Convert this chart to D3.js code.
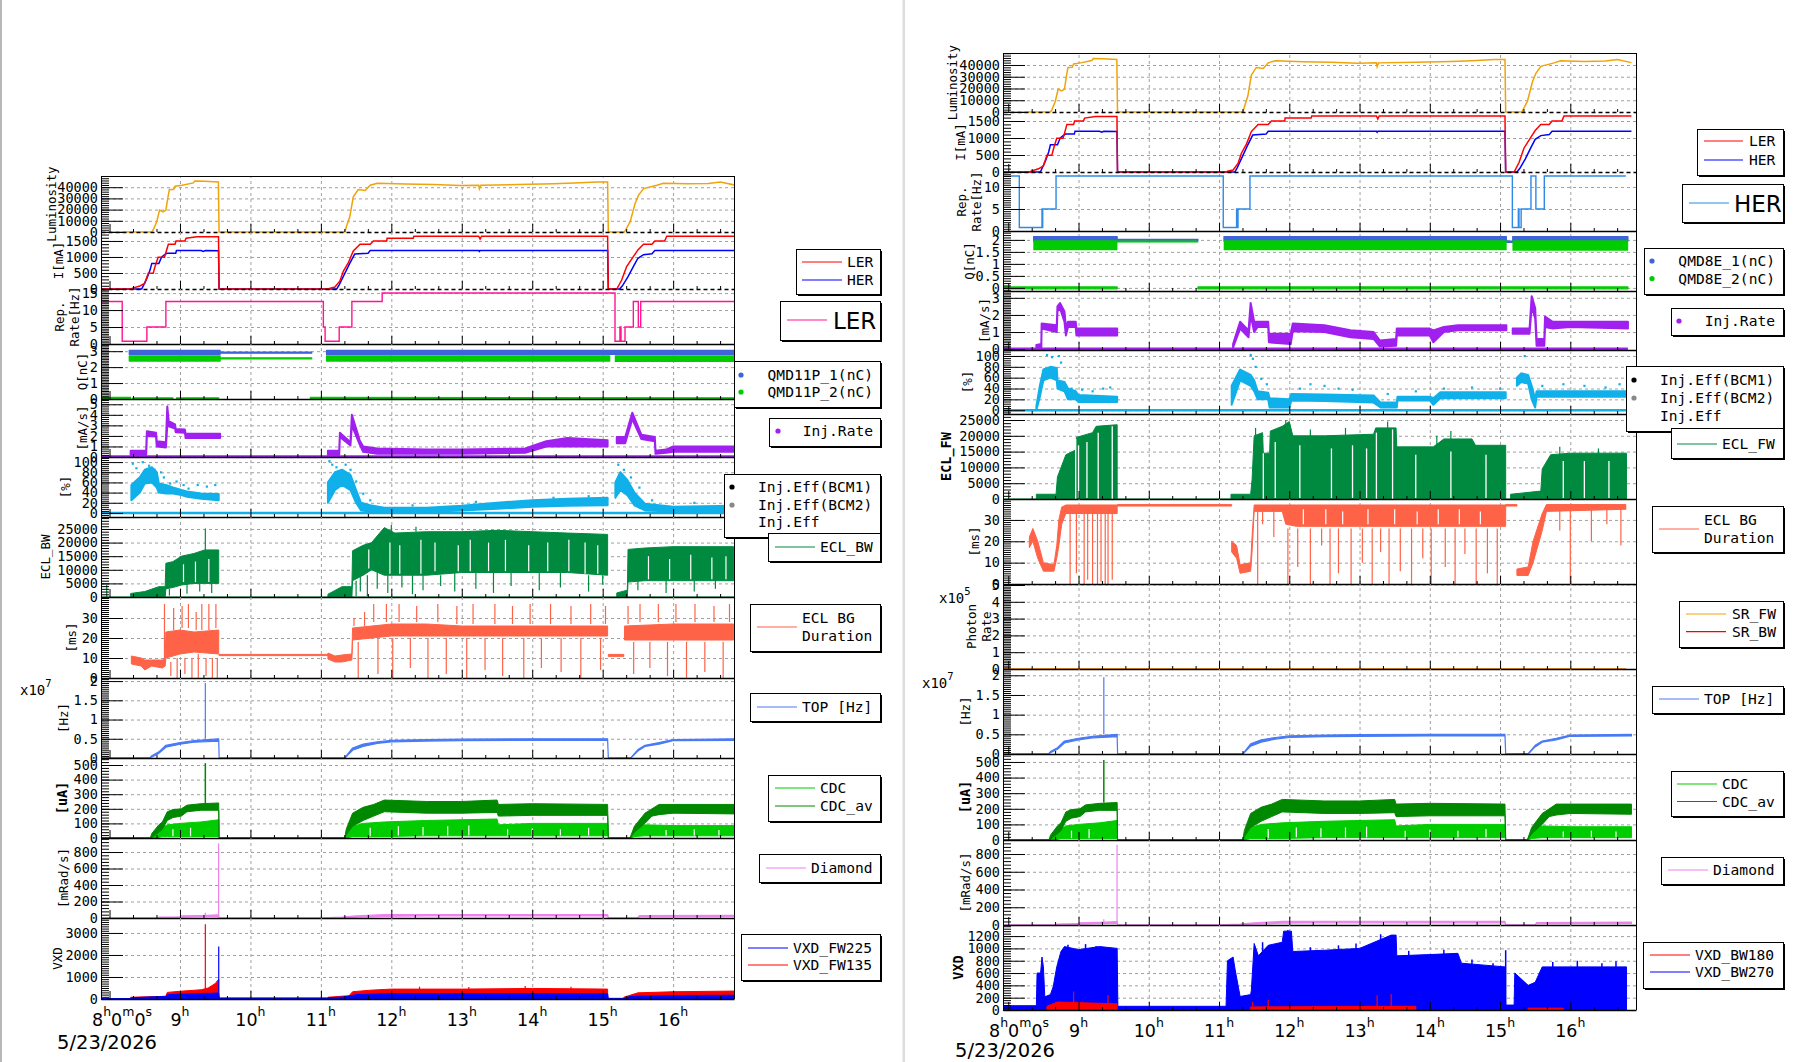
<!DOCTYPE html>
<html>
<head>
<meta charset="utf-8">
<script src="https://cdn.jsdelivr.net/npm/d3@7"></script>
<style>
body { margin: 0; background: #fff; }
</style>
</head>
<body>
<svg id="main" width="1806" height="1062"></svg>
<script>
// ---- values, time in hours of 5/23/2026 ----
var dateLabel = "5/23/2026";
var hourTicks = [8, 9, 10, 11, 12, 13, 14, 15, 16];

var lumData = [[7.879,0],[8.60,0],[8.62,1800],[8.67,9200],[8.71,19500],[8.76,18000],[8.80,19500],[8.83,31400],[8.85,37900],[8.91,38000],[8.93,40900],[9.03,41800],[9.19,43800],[9.21,45600],[9.35,45300],[9.545,44700],[9.555,0],[11.34,0],[11.37,6200],[11.41,13600],[11.46,31400],[11.53,37900],[11.63,37000],[11.70,41800],[11.80,43600],[12.2,42800],[12.6,42300],[12.98,41500],[13.24,41800],[13.25,38500],[13.27,41800],[13.8,42300],[14.3,43000],[14.6,43700],[14.92,44700],[15.07,44700],[15.08,0],[15.31,0],[15.39,9200],[15.46,25500],[15.51,32900],[15.58,38800],[15.77,41800],[15.86,43600],[16.2,43000],[16.5,43300],[16.67,44700],[16.87,42000]];

var lerCurrent = [[7.879,0],[8.315,0],[8.32,20],[8.43,94],[8.50,177],[8.55,490],[8.62,490],[8.646,700],[8.69,990],[8.78,990],[8.835,1400],[8.93,1400],[8.944,1500],[9.07,1500],[9.086,1585],[9.24,1635],[9.547,1635],[9.555,0],[11.106,0],[11.12,20],[11.2,60],[11.27,250],[11.32,560],[11.39,820],[11.46,1190],[11.556,1400],[11.7,1400],[11.745,1500],[11.935,1500],[11.94,1585],[12.31,1585],[12.32,1650],[13.24,1650],[13.26,1560],[13.28,1650],[15.07,1650],[15.08,0],[15.2,0],[15.27,280],[15.34,700],[15.435,1010],[15.5,1220],[15.58,1400],[15.7,1400],[15.74,1500],[15.88,1500],[15.91,1650],[16.87,1650]];
var herCurrent = [[7.879,0],[8.457,0],[8.53,330],[8.575,590],[8.6,800],[8.7,800],[8.74,1000],[8.81,1115],[8.94,1115],[8.95,1200],[9.3,1200],[9.33,1170],[9.36,1200],[9.547,1195],[9.555,0],[11.225,0],[11.26,130],[11.34,490],[11.41,800],[11.48,1090],[11.67,1115],[11.70,1200],[13.24,1200],[13.25,1170],[13.26,1200],[15.07,1200],[15.08,0],[15.24,0],[15.28,100],[15.36,385],[15.435,700],[15.5,960],[15.58,1070],[15.7,1100],[15.74,1200],[16.87,1200]];

var lerRepRate = [[7.879,12.5],[8.18,0.8],[8.53,5],[8.80,12.5],[11.035,5],[11.06,0.8],[11.26,5],[11.44,12.5],[11.87,15],[15.175,0.8],[15.245,5],[15.26,0.8],[15.317,5],[15.435,12.5],[15.506,5],[15.54,12.5],[16.87,12.5]];
var herRepRate = [[7.925,12.5],[8.157,0.8],[8.48,5],[8.485,0.8],[8.49,5],[8.68,12.5],[11.06,0.8],[11.25,5],[11.26,0.8],[11.27,5],[11.44,12.5],[15.175,0.8],[15.26,5],[15.27,0.8],[15.30,5],[15.44,12.5],[15.51,5],[15.63,12.5],[16.79,12.5]];

// bunch charge bands [t, low, high]
var qmd11p1 = [[[8.28,2.8,3.05],[9.57,2.8,3.05]],[[9.57,2.87,2.94],[10.87,2.87,2.94]],[[11.08,2.8,3.05],[16.86,2.8,3.05]]];
var qmd11p2 = [[[8.28,2.38,2.7],[9.57,2.38,2.7]],[[9.57,2.52,2.58],[10.87,2.52,2.58]],[[11.08,2.38,2.7],[15.1,2.38,2.7]],[[15.18,2.36,2.7],[16.86,2.36,2.7]]];
var qmd11pZero = [[[7.879,0,0.1],[8.30,0,0.1]],[[8.33,0,0.08],[8.9,0,0.08]],[[8.95,0,0.08],[9.55,0,0.08]],[[10.85,0,0.1],[16.86,0,0.08]]];
var qmd8e1 = [[[8.36,1.95,2.14],[9.55,1.95,2.14]],[[9.55,1.96,2.02],[10.70,1.96,2.02]],[[11.07,1.95,2.14],[15.09,1.95,2.14]],[[15.09,1.9,1.95],[15.18,1.9,1.95]],[[15.18,1.95,2.14],[16.82,1.95,2.14]]];
var qmd8e2 = [[[8.36,1.58,1.97],[9.55,1.58,1.97]],[[9.55,1.9,1.96],[10.70,1.9,1.96]],[[11.07,1.58,1.97],[15.09,1.58,1.97]],[[15.18,1.56,1.97],[16.82,1.56,1.97]]];
var qmd8eZero = [[[7.925,-0.04,0.04],[9.55,-0.04,0.04]],[[10.70,-0.04,0.04],[16.82,-0.04,0.04]]];

// injection rate bands [t, low, high] (mA/s)
var lerInjRate = [
  [[8.30,0.2,0.6],[8.52,0.2,0.6],[8.53,2.0,2.45],[8.66,1.95,2.3],[8.67,1.0,1.5],[8.80,0.9,1.4],[8.82,3.0,4.8],[8.84,2.9,3.4],[8.93,2.7,3.1],[8.94,2.35,2.65],[9.07,2.3,2.6],[9.08,1.8,2.2],[9.57,1.8,2.2]],
  [[11.10,0.2,0.6],[11.26,0.2,0.6],[11.27,1.9,2.3],[11.42,1.1,1.4],[11.44,3.0,4.0],[11.55,1.2,1.6],[11.60,0.5,1.0],[11.8,0.3,0.8],[12.5,0.3,0.7],[13.0,0.3,0.7],[13.9,0.4,0.8],[14.2,1.0,1.5],[14.5,1.0,1.8],[15.07,1.0,1.6]],
  [[15.2,1.3,1.9],[15.32,1.3,1.9],[15.42,3.6,4.2],[15.55,1.7,2.1],[15.74,1.5,1.9],[15.75,0.3,0.6],[15.9,0.4,0.7],[16.0,0.5,1.0],[16.86,0.5,1.0]]
];
var herInjRate = [
  [[8.40,0.05,0.25],[8.47,0.05,0.3],[8.475,1.2,1.5],[8.69,1.0,1.4],[8.70,2.2,2.5],[8.736,2.4,2.7],[8.80,1.6,2.2],[8.82,0.8,1.3],[8.85,1.3,1.6],[8.96,1.3,1.6],[8.97,0.8,1.2],[9.55,0.8,1.2]],
  [[11.20,0.1,0.3],[11.30,1.2,1.6],[11.42,0.7,1.1],[11.45,2.0,2.7],[11.50,1.0,1.6],[11.55,1.3,1.6],[11.70,1.3,1.6],[11.71,0.4,0.9],[12.02,0.3,0.9],[12.05,1.05,1.5],[12.5,1.0,1.4],[12.87,0.7,1.1],[13.2,0.6,1.0],[13.29,0.15,0.5],[13.52,0.2,0.6],[13.53,0.8,1.2],[14.0,0.8,1.2],[14.05,0.4,1.1],[14.2,1.0,1.3],[14.4,1.1,1.4],[15.09,1.1,1.4]],
  [[15.18,0.9,1.2],[15.42,0.9,1.2],[15.45,2.5,3.1],[15.5,1.8,2.4],[15.52,0.2,0.6],[15.63,0.2,0.6],[15.64,1.3,1.9],[15.75,1.2,1.6],[16.0,1.3,1.6],[16.82,1.2,1.6]]
];

// injection efficiency bands [t, low, high] (%)
var lerInjEff = [
  [[8.31,25,55],[8.43,40,70],[8.5,58,85],[8.6,60,90],[8.67,50,80],[8.70,40,58],[8.80,38,55],[8.9,38,50],[9.02,35,45],[9.1,32,42],[9.3,28,38],[9.55,25,37]],
  [[11.1,20,60],[11.2,45,80],[11.3,55,85],[11.42,45,75],[11.5,20,45],[11.57,5,20],[11.7,3,15],[11.9,2,10],[12.5,2,10],[13.0,5,14],[13.5,8,20],[14.0,12,25],[14.5,14,28],[15.07,15,30]],
  [[15.18,30,60],[15.25,45,80],[15.35,35,65],[15.45,15,40],[15.6,5,18],[16.0,3,12],[16.86,3,14]]
];
var herInjEff = [
  [[8.40,0,8],[8.45,25,45],[8.5,55,75],[8.6,60,80],[8.69,55,78],[8.70,40,55],[8.80,35,52],[8.85,20,40],[8.96,20,35],[9.0,15,28],[9.55,15,25]],
  [[11.18,10,45],[11.3,55,75],[11.45,45,65],[11.5,35,55],[11.55,20,35],[11.70,20,32],[11.72,5,22],[12.0,5,20],[12.03,18,30],[12.5,17,29],[13.2,14,27],[13.3,5,14],[13.53,5,14],[13.54,18,25],[14.0,18,25],[14.05,10,22],[14.15,22,33],[15.08,22,33]],
  [[15.24,45,60],[15.3,52,68],[15.4,49,65],[15.45,20,45],[15.5,5,20],[15.52,25,35],[16.0,25,35],[16.82,25,35]]
];
var lerEffPoints = [[8.33,97],[8.38,88],[8.47,100],[8.56,93],[8.64,85],[8.73,80],[8.77,70],[8.86,58],[8.95,62],[9.05,55],[9.12,48],[9.25,55],[9.38,52],[9.5,55],[11.12,102],[11.16,95],[11.22,90],[11.35,95],[11.42,85],[11.5,62],[11.6,38],[11.7,25],[12.3,15],[13.2,22],[14.3,30],[14.8,33],[15.22,95],[15.3,85],[15.4,70],[15.52,50],[15.7,25],[16.3,20]];
var herEffPoints = [[8.55,102],[8.62,98],[8.72,100],[8.75,88],[8.9,40],[9.05,38],[9.2,35],[9.35,40],[9.45,42],[11.45,102],[11.48,95],[11.52,80],[11.6,58],[11.68,48],[12.15,40],[12.3,48],[12.5,45],[12.7,40],[12.9,38],[13.4,30],[13.8,35],[14.2,40],[14.6,42],[15.0,40],[15.35,100],[15.6,45],[15.9,48],[16.2,45],[16.5,42],[16.7,48]];

// ECL background bands [t, low, high], spikes and white gaps [t, from, to]
var eclBw = [
  [[8.3,0,1300],[8.5,0,2000],[8.7,0,3800],[8.79,0,3800],[8.8,3000,12400],[8.9,3500,13000],[9.02,4400,15000],[9.2,5000,16000],[9.35,5000,17300],[9.55,5000,17300]],
  [[11.1,0,1000],[11.3,0,3800],[11.44,0,3800],[11.45,6000,17000],[11.6,8000,19000],[11.72,10000,20000],[11.9,8000,25500],[12.05,8000,23500],[12.5,8000,24000],[13.0,9000,24000],[13.5,9000,24500],[14.0,9000,24000],[14.5,9000,23500],[15.07,8000,23000]],
  [[15.2,0,1500],[15.35,0,2500],[15.36,5500,17500],[15.6,6000,18000],[16.0,6000,18500],[16.86,6000,18500]]
];
var eclBwSpikes = [[7.96,0,4400],[9.36,17000,25200],[8.85,500,3000],[9.1,5000,1200],[9.28,5000,2000],[9.45,5000,1500],[11.5,6000,300],[11.56,8000,2000],[11.66,8000,400],[11.8,10000,3000],[11.95,8000,1500],[12.15,8000,3500],[12.3,8000,1000],[12.45,8000,2500],[12.7,8000,4000],[12.9,9000,2000],[13.2,9000,3000],[13.45,9000,1500],[13.7,9000,4000],[14.1,9000,2500],[14.4,9000,3500],[14.8,8000,2000],[15.0,8000,4500],[15.5,6000,2500],[15.9,6000,1500],[16.3,6000,2000],[16.6,6000,3000],[12.0,23500,26500],[12.35,24000,25800]];
var eclBwGaps = [[9.05,5500,12000],[9.22,5500,13000],[9.41,5500,14000],[11.68,10500,17500],[11.98,8500,20000],[12.12,8500,19000],[12.42,8500,21000],[12.62,9500,20000],[12.95,9500,19000],[13.12,9500,21000],[13.38,9500,20000],[13.62,9500,21000],[13.95,9500,19000],[14.22,9500,20000],[14.52,9500,21000],[14.75,8500,20000],[14.93,8500,19000],[15.65,6500,15000],[15.95,6500,14000],[16.25,6500,15500],[16.55,6500,14500],[16.75,6500,15000]];
var eclFw = [
  [[8.4,0,1500],[8.68,0,1500],[8.7,0,7000],[8.82,0,14000],[8.96,0,15500],[8.97,0,19500],[9.2,0,21000],[9.25,0,23000],[9.55,0,23500]],
  [[11.17,0,1500],[11.45,0,1500],[11.47,0,6000],[11.5,0,20000],[11.62,0,21000],[11.63,0,14500],[11.72,0,14500],[11.73,0,21500],[11.9,0,23000],[12.0,0,24500],[12.05,0,20000],[12.5,0,20000],[13.2,0,20500],[13.23,0,22500],[13.52,0,22500],[13.53,0,16500],[14.05,0,16500],[14.2,0,19000],[14.6,0,19000],[14.65,0,17000],[15.08,0,17000]],
  [[15.15,0,1500],[15.58,0,2500],[15.6,0,9500],[15.72,0,14000],[16.0,0,14500],[16.8,0,14500]]
];
var eclFwSpikes = [[7.93,0,5000],[11.52,0,22500],[11.95,0,25000],[12.3,0,22000],[12.8,0,22500],[13.4,0,24500],[14.1,0,20000],[14.3,0,21500],[15.85,0,16500],[16.4,0,16000]];
var eclFwGaps = [[8.96,0,19000],[9.0,300,17000],[9.12,300,18000],[9.28,0,21000],[9.48,0,23000],[11.63,0,14500],[11.8,300,18000],[12.15,300,17000],[12.6,300,16000],[12.9,300,17000],[13.1,300,16000],[13.24,0,21000],[13.47,0,22000],[13.8,300,14000],[14.3,300,15000],[14.8,300,14000],[15.9,300,12000],[16.2,300,12000],[16.55,300,12000]];

// ECL BG duration bands [t, low, high] (ms) and spikes [t, from, to]
var lerDuration = [
  [[8.31,7,11],[8.45,6,10],[8.5,4,9],[8.6,6,9],[8.75,5,9],[8.79,6,10],[8.8,10,23],[9.0,12,24],[9.2,13,23],[9.55,12,24]],
  [[9.555,11.2,11.8],[11.1,11.2,11.8]],
  [[11.1,9.5,12.5],[11.2,8,11],[11.3,8,11.5],[11.44,9,12],[11.45,19,25],[12.0,21,27],[12.5,21,27],[13.0,21,26],[14.0,21,26],[15.07,21,26]],
  [[15.08,10.8,11.8],[15.3,10.8,11.8]],
  [[15.31,19,26],[16.0,19,27],[16.86,19,27]]
];
var lerDurSpikes = [[8.78,10,37],[8.87,8,1],[8.91,24,35],[8.96,10,0],[9.03,25,36],[9.07,10,2],[9.12,25,37],[9.17,10,0],[9.23,24,33],[9.26,12,0],[9.31,24,37],[9.37,10,1],[9.41,24,37],[9.46,10,0],[9.51,25,37],[9.53,10,0],[11.47,26,30],[11.53,18,0],[11.62,26,33],[11.75,28,37],[11.81,20,2],[11.93,28,37],[12.02,20,0],[12.11,28,37],[12.27,20,5],[12.36,28,36],[12.52,20,0],[12.66,28,37],[12.78,20,2],[12.93,27,36],[13.07,20,0],[13.16,27,37],[13.33,20,4],[13.47,27,37],[13.58,20,1],[13.72,27,36],[13.88,20,0],[13.97,27,37],[14.13,20,5],[14.26,27,37],[14.41,20,3],[14.55,27,36],[14.69,20,0],[14.83,27,37],[14.97,20,4],[15.04,27,36],[15.36,27,36],[15.44,18,2],[15.53,28,37],[15.67,18,5],[15.79,28,37],[15.92,18,1],[16.04,28,37],[16.19,18,0],[16.31,28,37],[16.45,18,3],[16.58,28,36],[16.71,18,0],[16.8,28,37]];
var herDuration = [
  [[8.3,17,22],[8.35,20,26],[8.42,12,20],[8.5,6,10],[8.65,6,9],[8.69,12,18],[8.72,18,30],[8.76,28,36],[8.82,33,37],[9.55,33,37]],
  [[9.555,36.5,37.2],[11.18,36.5,37.2]],
  [[11.18,15,20],[11.25,12,18],[11.3,5,9],[11.45,6,10],[11.47,15,22],[11.5,34,37],[11.9,34,37],[11.95,28,37],[12.1,27,37],[15.08,27,37]],
  [[15.08,36.5,37.2],[15.24,36.5,37.2]],
  [[15.24,4,7],[15.4,4,8],[15.47,10,20],[15.6,25,33],[15.66,34,37.2],[16.79,35,37.2]]
];
var herDurSpikes = [[8.88,33,0],[8.97,33,5],[9.08,33,0],[9.13,33,2],[9.2,33,0],[9.27,33,0],[9.32,33,1],[9.38,33,0],[9.42,33,0],[9.48,33,2],[11.55,34,0],[11.62,34,28],[11.78,34,22],[11.98,26,0],[12.12,26,8],[12.3,26,0],[12.46,26,18],[12.58,26,0],[12.7,26,5],[12.88,26,0],[13.04,26,10],[13.18,26,0],[13.3,26,15],[13.42,26,0],[13.58,26,6],[13.74,26,0],[13.9,26,12],[14.02,26,0],[14.22,26,8],[14.36,26,0],[14.5,26,14],[14.66,26,0],[14.82,26,5],[14.96,26,0],[15.85,35,25],[16.0,35,0],[16.3,35,20],[16.52,35,28],[16.72,35,18]];
var herDurGaps = [[12.2,28,35],[12.52,28,35],[12.76,28,34],[13.12,28,35],[13.5,28,35],[13.82,28,34],[14.12,28,35],[14.42,28,35],[14.72,28,34]];

// SR photon rate (x1e5), TOP (x1e7), CDC, diamond
var srFw = [[7.925,0],[16.79,0]];
var srBw = [[7.925,0],[16.79,0]];
var topRate = [
  [[7.879,0,0.005],[8.575,0,0.01],[8.6,0.03,0.06],[8.7,0.12,0.16],[8.8,0.28,0.33],[9.0,0.36,0.40],[9.2,0.41,0.45],[9.55,0.44,0.5],[9.556,0,0.005],[11.34,0,0.01],[11.45,0.2,0.26],[11.6,0.3,0.36],[11.8,0.38,0.42],[12.0,0.42,0.46],[12.5,0.44,0.48],[13.0,0.45,0.49],[14.0,0.46,0.5],[15.07,0.46,0.5],[15.08,0,0.005],[15.4,0,0.01],[15.5,0.18,0.22],[15.6,0.3,0.33],[15.8,0.36,0.40],[16.0,0.45,0.48],[16.87,0.46,0.5]]
];
var topSpikes = [[9.36,0.5,1.95]];
var cdcCurrent = [
  [[8.58,0,2],[8.65,0,30],[8.75,10,70],[8.82,10,90],[9.0,10,100],[9.3,10,110],[9.55,10,125]],
  [[11.34,0,2],[11.45,10,80],[11.6,10,100],[11.9,10,110],[12.5,15,120],[13.5,15,130],[13.52,15,90],[14.0,15,100],[15.07,15,100]],
  [[15.39,0,2],[15.45,10,60],[15.6,15,90],[16.0,15,85],[16.87,15,85]]
];
var cdcGaps = [[8.9,12,60],[9.15,12,70],[11.7,12,70],[12.1,17,80],[12.45,17,75],[12.8,17,80],[13.1,17,85],[13.65,17,60],[14.0,17,65],[14.4,17,60],[14.8,17,70],[15.9,17,55],[16.3,17,60],[16.65,17,55]];
var cdcAverage = [
  [[7.879,0,2],[8.58,0,2],[8.6,5,30],[8.7,40,90],[8.75,60,110],[8.82,120,180],[8.9,140,195],[9.02,150,200],[9.1,180,225],[9.3,190,235],[9.55,190,240],[9.555,0,2],[11.34,0,2],[11.36,20,60],[11.45,80,170],[11.6,120,210],[11.75,150,230],[11.9,180,260],[12.5,170,250],[13.0,170,250],[13.5,175,260],[13.52,150,230],[14.0,155,235],[15.07,155,230],[15.08,0,2],[15.39,0,2],[15.45,40,80],[15.6,100,170],[15.7,150,200],[15.8,160,230],[16.0,170,230],[16.87,165,230]]
];
var cdcSpikes = [[9.36,240,513]];
var diamondDose = [
  [[7.879,0,1],[8.68,0,2],[8.7,3,10],[9.0,5,15],[9.02,10,25],[9.3,15,30],[9.55,20,38],[9.555,0,1],[11.0,0,2],[11.3,2,10],[11.5,10,25],[11.9,20,40],[12.5,25,40],[13.0,25,42],[14.0,25,42],[15.07,25,40],[15.08,0,3],[15.5,0,3],[15.52,15,28],[16.87,18,32]]
];
var diamondSpikes = [[9.36,30,64],[9.548,30,905]];

// VXD
var vxdFw225 = [
  [[7.879,0,20],[8.3,0,20],[8.32,0,60],[8.8,0,120],[8.82,0,200],[9.3,0,250],[9.55,0,270],[9.56,0,50],[11.1,0,50],[11.35,0,100],[11.5,0,200],[12.0,0,250],[13.0,0,250],[15.07,0,240],[15.08,0,30],[15.3,0,30],[15.4,0,120],[16.0,0,160],[16.87,0,170]]
];
var vxdFw135 = [
  [[8.3,0,80],[8.8,0,120],[8.82,0,300],[9.0,0,350],[9.3,0,420],[9.4,0,500],[9.5,0,700],[9.55,0,900]],
  [[11.1,0,80],[11.4,0,150],[11.45,0,330],[11.7,0,400],[12.0,0,450],[13.0,0,450],[14.0,0,480],[15.07,0,450]],
  [[15.3,0,80],[15.5,0,280],[16.0,0,330],[16.87,0,360]]
];
var vxdFwSpikes135 = [[9.36,400,3400],[12.4,440,560],[13.1,440,540],[13.9,470,590],[14.55,460,560]];
var vxdFwSpikes225 = [[9.55,200,2380]];
var vxdBw270 = [
  [[7.925,0,70],[8.4,0,70],[8.41,0,600],[8.46,0,600],[8.48,0,860],[8.5,0,700],[8.52,0,215],[8.6,0,250],[8.64,0,380],[8.69,0,700],[8.75,0,950],[8.8,0,1030],[9.0,0,980],[9.3,0,1030],[9.55,0,1000],[9.56,0,60],[11.1,0,60],[11.12,0,800],[11.2,0,860],[11.23,0,650],[11.3,0,220],[11.45,0,250],[11.46,0,320],[11.5,0,1080],[11.56,0,880],[11.7,0,1050],[11.9,0,1100],[11.92,0,1280],[12.03,0,1280],[12.05,0,950],[12.5,0,970],[13.0,0,1000],[13.45,0,1216],[13.52,0,1216],[13.53,0,880],[14.0,0,900],[14.4,0,920],[14.45,0,760],[15.07,0,700],[15.08,0,80],[15.2,0,80],[15.21,0,600],[15.4,0,400],[15.5,0,450],[15.6,0,700],[16.0,0,700],[16.8,0,700]]
];
var vxdBwSpikes270 = [[8.85,900,1060],[9.1,950,1070],[9.25,950,1040],[11.62,900,1100],[11.98,1200,1300],[12.3,900,1020],[12.7,950,1050],[12.95,980,1080],[13.3,1100,1230],[13.7,880,960],[14.2,880,980],[14.6,700,820],[14.9,680,760],[15.08,80,970],[15.75,650,780],[16.1,650,800],[16.45,650,760],[16.65,650,790]];
var vxdBw180 = [
  [[8.55,0,60],[8.7,0,130],[9.55,0,100]],
  [[11.45,0,50],[13.8,0,60]],
  [[15.4,0,30],[15.9,0,30]]
];
var vxdBwSpikes180 = [[8.93,100,300],[9.42,100,245],[11.48,40,135],[11.70,40,165],[13.25,50,240],[13.45,50,260]];

// ---- drawing ----
var svg = d3.select("#main");
var mono = "DejaVu Sans Mono";
var C = { lum: "#f0a30a", ler: "#ff0000", her: "#0000ff", repL: "#ff1493", repH: "#2e8ae6",
  q1: "#3f63d8", q2: "#00cc00", rate: "#a020f0", eff: "#10b0ea", ecl: "#008a40", dur: "#ff6347",
  top: "#4a7af5", cdc: "#00cc00", cdcAv: "#008800", dia: "#ee82ee" };

svg.append("rect").attr("x", 0).attr("y", 0).attr("width", 2).attr("height", 1062).attr("fill", "#b8b8b8");
svg.append("rect").attr("x", 902.5).attr("y", 0).attr("width", 2.5).attr("height", 1062).attr("fill", "#dddddd");

function gridStyle(s) {
  s.select(".domain").remove();
  s.selectAll("line").attr("stroke", "#a0a0a0").attr("stroke-dasharray", "3,3");
}

function minorValues(dom, step) {
  var out = [];
  for (var v = Math.ceil(dom[0] / step) * step; v <= dom[1] + 1e-9; v += step) out.push(v);
  return out;
}

function drawPanel(side, p, first) {
  var x = side.x, x0 = side.x0, x1 = side.x1;
  var y = d3.scaleLinear().domain(p.domain).range([p.y1, p.y0]);
  var w = x1 - x0, h = p.y1 - p.y0;
  var g = svg.append("g");

  var gridVals = p.ticks.filter(function(v) { return y(v) < p.y1 - 2 && y(v) > p.y0 + 1; });
  g.append("g").attr("transform", "translate(" + x0 + ",0)")
    .call(d3.axisLeft(y).tickValues(gridVals).tickSizeInner(-w).tickSizeOuter(0).tickFormat(""))
    .call(gridStyle);
  g.append("g").attr("transform", "translate(0," + p.y1 + ")")
    .call(d3.axisBottom(x).tickValues(hourTicks.slice(1)).tickSizeInner(-h).tickSizeOuter(0).tickFormat(""))
    .call(gridStyle);

  var clipId = "c" + side.name + p.key;
  svg.append("clipPath").attr("id", clipId).append("rect")
    .attr("x", x0).attr("y", p.y0).attr("width", w).attr("height", h + 1);
  var dg = g.append("g").attr("clip-path", "url(#" + clipId + ")");

  p.series.forEach(function(s) {
    if (s.type === "line" || s.type === "step") {
      var ln = d3.line().x(function(d) { return x(d[0]); }).y(function(d) { return y(d[1]); })
        .curve(s.type === "step" ? d3.curveStepAfter : d3.curveLinear);
      dg.append("path").attr("d", ln(s.data)).attr("fill", "none")
        .attr("stroke", s.color).attr("stroke-width", s.w || 1.4);
    } else if (s.type === "band") {
      var ar = d3.area().x(function(d) { return x(d[0]); })
        .y0(function(d) { return y(d[1]); }).y1(function(d) { return y(d[2]); });
      s.data.forEach(function(seg) {
        dg.append("path").attr("d", ar(seg)).attr("fill", s.color)
          .attr("stroke", s.color).attr("stroke-width", s.w || 1.2).attr("stroke-linejoin", "round");
      });
    } else if (s.type === "spikes") {
      dg.selectAll(null).data(s.data).enter().append("line")
        .attr("x1", function(d) { return x(d[0]); }).attr("x2", function(d) { return x(d[0]); })
        .attr("y1", function(d) { return y(d[1]); }).attr("y2", function(d) { return y(d[2]); })
        .attr("stroke", s.color).attr("stroke-width", s.w || 1.2);
    } else if (s.type === "dots") {
      dg.selectAll(null).data(s.data).enter().append("rect")
        .attr("x", function(d) { return x(d[0]) - 1; }).attr("y", function(d) { return y(d[1]) - 1; })
        .attr("width", 2.2).attr("height", 2.2).attr("fill", s.color);
    }
  });

  // y axis, minor then major
  var ym = g.append("g").attr("transform", "translate(" + x0 + ",0)")
    .call(d3.axisLeft(y).tickValues(minorValues(p.domain, p.minor)).tickSizeInner(-8).tickSizeOuter(0).tickFormat(""));
  ym.select(".domain").remove();
  var ya = g.append("g").attr("transform", "translate(" + x0 + ",0)")
    .call(d3.axisLeft(y).tickValues(p.ticks).tickSizeInner(-22).tickSizeOuter(0).tickPadding(3)
      .tickFormat(function(d) { return String(d); }));
  ya.selectAll("text").attr("font-family", mono).attr("font-size", 13.5).attr("fill", "#000");

  // x axis at the panel bottom
  var inDom = function(v) { return v >= x.domain()[0] && v <= x.domain()[1]; };
  var xm = g.append("g").attr("transform", "translate(0," + p.y1 + ")")
    .call(d3.axisBottom(x).tickValues(minorValues(x.domain(), 1 / 3).filter(function(v) {
      return Math.abs(v - Math.round(v)) > 0.01; })).tickSizeInner(-3).tickSizeOuter(0).tickFormat(""));
  xm.select(".domain").remove();
  var xa = g.append("g").attr("transform", "translate(0," + p.y1 + ")")
    .call(d3.axisBottom(x).tickValues(hourTicks.filter(inDom)).tickSizeInner(-8).tickSizeOuter(0).tickFormat(""));
  xa.select(".domain").attr("stroke-width", 1.3);
  if (p.dash) xa.select(".domain").attr("stroke-dasharray", "4,3");

  g.append("line").attr("x1", x1 + 0.5).attr("x2", x1 + 0.5).attr("y1", p.y0).attr("y2", p.y1).attr("stroke", "#000");
  if (first) g.append("line").attr("x1", x0).attr("x2", x1).attr("y1", p.y0 + 0.5).attr("y2", p.y0 + 0.5).attr("stroke", "#000");

  var cy = (p.y0 + p.y1) / 2;
  p.label.forEach(function(txt, k) {
    g.append("text").attr("transform", "translate(" + p.lx[k] + "," + cy + ") rotate(-90)")
      .attr("text-anchor", "middle").attr("font-family", mono)
      .attr("font-size", p.bold ? 13.5 : 12.5).attr("font-weight", p.bold ? "bold" : "normal").text(txt);
  });
  if (p.exp) {
    var et = g.append("text").attr("x", p.exp[0]).attr("y", p.exp[1]).attr("font-family", mono).attr("font-size", 14);
    et.append("tspan").text("x10");
    et.append("tspan").attr("dy", -8).attr("font-size", 10.5).text(p.exp[2]);
  }
}

function supText(g, x, y, anchor, parts) {
  var t = g.append("text").attr("x", x).attr("y", y).attr("text-anchor", anchor);
  parts.forEach(function(pp, i) {
    t.append("tspan").attr("dy", i === 0 ? 0 : 10).text(pp[0]);
    t.append("tspan").attr("dy", -10).attr("font-size", 12.5).text(pp[1]);
  });
}

function legend(L) {
  var g = svg.append("g");
  var bw = L.box[2] - L.box[0], bh = L.box[3] - L.box[1];
  g.append("rect").attr("x", L.box[0] + 2).attr("y", L.box[1] + 2).attr("width", bw).attr("height", bh).attr("fill", "#000");
  g.append("rect").attr("x", L.box[0] + 0.5).attr("y", L.box[1] + 0.5).attr("width", bw).attr("height", bh)
    .attr("fill", "#fff").attr("stroke", "#000");
  L.items.forEach(function(it) {
    if (it.line) g.append("line").attr("x1", it.line[0]).attr("x2", it.line[1]).attr("y1", it.y).attr("y2", it.y)
      .attr("stroke", it.color).attr("stroke-width", 1.2);
    if (it.dot) g.append("circle").attr("cx", it.dot).attr("cy", it.y).attr("r", 2.6).attr("fill", it.color);
    if (it.text) g.append("text").attr("x", it.tx).attr("y", it.y + (it.big ? 8.5 : 5))
      .attr("text-anchor", it.anchor || "start").attr("font-family", it.big ? "DejaVu Sans" : mono)
      .attr("font-size", it.big ? 23 : 14.6).text(it.text);
  });
}

function drawSide(side) {
  side.panels.forEach(function(p, i) { drawPanel(side, p, i === 0); });
  var g = svg.append("g").attr("font-family", "DejaVu Sans").attr("font-size", 17.5);
  supText(g, side.firstX, side.labelY, "start", [["8", "h"], ["0", "m"], ["0", "s"]]);
  hourTicks.slice(1).forEach(function(hh) {
    supText(g, side.x(hh), side.labelY, "middle", [[String(hh), "h"]]);
  });
  g.append("text").attr("x", side.dateX).attr("y", side.dateY).attr("font-size", 19.5).text(dateLabel);
  side.legends.forEach(legend);
}

var leftSide = {
  name: "L", x0: 101, x1: 734, x: d3.scaleLinear().domain([7.879, 16.864]).range([101, 734]),
  firstX: 92, labelY: 1026, dateX: 57, dateY: 1049,
  panels: [
    { key: "lum", y0: 176, y1: 232, domain: [0, 50000], ticks: [0, 10000, 20000, 30000, 40000], minor: 2000, label: ["Luminosity"], lx: [56], dash: true,
      series: [{ type: "line", data: lumData, color: C.lum, w: 1.5 }] },
    { key: "cur", y0: 232, y1: 289, domain: [0, 1780], ticks: [0, 500, 1000, 1500], minor: 100, label: ["I[mA]"], lx: [63], dash: true,
      series: [{ type: "line", data: herCurrent, color: C.her, w: 1.5 }, { type: "line", data: lerCurrent, color: C.ler, w: 1.5 }] },
    { key: "rep", y0: 289, y1: 344, domain: [0, 16.2], ticks: [0, 5, 10, 15], minor: 0.5, label: ["Rep.", "Rate[Hz]"], lx: [64, 79],
      series: [{ type: "step", data: lerRepRate, color: C.repL, w: 1.4 }] },
    { key: "q", y0: 344, y1: 399, domain: [0, 3.45], ticks: [0, 1, 2, 3], minor: 0.1, label: ["Q[nC]"], lx: [87],
      series: [{ type: "band", data: qmd11pZero, color: C.q2 }, { type: "band", data: qmd11p1, color: C.q1 }, { type: "band", data: qmd11p2, color: C.q2 }] },
    { key: "rate", y0: 399, y1: 457, domain: [0, 5.5], ticks: [0, 1, 2, 3, 4, 5], minor: 0.2, label: ["[mA/s]"], lx: [87],
      series: [{ type: "line", data: [[7.879, 0.05], [16.87, 0.05]], color: C.rate, w: 2.5 }, { type: "band", data: lerInjRate, color: C.rate, w: 2 }] },
    { key: "eff", y0: 457, y1: 517, domain: [-8, 110], ticks: [0, 20, 40, 60, 80, 100], minor: 4, label: ["[%]"], lx: [70],
      series: [{ type: "line", data: [[7.879, 0], [16.87, 0]], color: C.eff, w: 2.5 }, { type: "band", data: lerInjEff, color: C.eff, w: 2 }, { type: "dots", data: lerEffPoints, color: C.eff }] },
    { key: "ecl", y0: 517, y1: 597, domain: [0, 29400], ticks: [0, 5000, 10000, 15000, 20000, 25000], minor: 1000, label: ["ECL_BW"], lx: [50],
      series: [{ type: "line", data: [[7.879, 0], [16.87, 0]], color: C.ecl, w: 1.2 }, { type: "band", data: eclBw, color: C.ecl, w: 1 }, { type: "spikes", data: eclBwGaps, color: "#fff", w: 1.2 }, { type: "spikes", data: eclBwSpikes, color: C.ecl }] },
    { key: "dur", y0: 597, y1: 678, domain: [0, 40.5], ticks: [0, 10, 20, 30], minor: 1, label: ["[ms]"], lx: [76],
      series: [{ type: "band", data: lerDuration, color: C.dur, w: 1 }, { type: "spikes", data: lerDurSpikes, color: C.dur }] },
    { key: "top", y0: 678, y1: 758, domain: [0, 2.08], ticks: [0, 0.5, 1, 1.5, 2], minor: 0.05, label: ["[Hz]"], lx: [68], exp: [20, 695, "7"],
      series: [{ type: "band", data: topRate, color: C.top, w: 1.2 }, { type: "spikes", data: topSpikes, color: C.top }] },
    { key: "cdc", y0: 758, y1: 838, domain: [0, 548], ticks: [0, 100, 200, 300, 400, 500], minor: 20, label: ["[uA]"], lx: [67], bold: true,
      series: [{ type: "band", data: cdcCurrent, color: C.cdc, w: 1 }, { type: "spikes", data: cdcGaps, color: "#fff", w: 1.2 }, { type: "band", data: cdcAverage, color: C.cdcAv, w: 1 }, { type: "spikes", data: cdcSpikes, color: C.cdcAv, w: 1.5 }] },
    { key: "dia", y0: 838, y1: 918, domain: [0, 970], ticks: [0, 200, 400, 600, 800], minor: 40, label: ["[mRad/s]"], lx: [68],
      series: [{ type: "band", data: diamondDose, color: C.dia, w: 1.2 }, { type: "spikes", data: diamondSpikes, color: C.dia }] },
    { key: "vxd", y0: 918, y1: 999, domain: [0, 3680], ticks: [0, 1000, 2000, 3000], minor: 100, label: ["VXD"], lx: [62],
      series: [{ type: "band", data: vxdFw135, color: C.ler, w: 1 }, { type: "spikes", data: vxdFwSpikes135, color: C.ler }, { type: "band", data: vxdFw225, color: C.her, w: 1 }, { type: "spikes", data: vxdFwSpikes225, color: C.her }] }
  ],
  legends: [
    { box: [796, 249, 880, 294], items: [{ line: [802, 842], y: 262, color: C.ler, text: "LER", tx: 847 }, { line: [802, 842], y: 280, color: C.her, text: "HER", tx: 847 }] },
    { box: [780, 301, 880, 340], items: [{ line: [787, 827], y: 320, color: C.repL, text: "LER", tx: 833, big: true }] },
    { box: [734, 361, 880, 407], items: [{ dot: 741, y: 375, color: C.q1, text: "QMD11P_1(nC)", tx: 873, anchor: "end" }, { dot: 741, y: 392, color: C.q2, text: "QMD11P_2(nC)", tx: 873, anchor: "end" }] },
    { box: [769, 418, 880, 446], items: [{ dot: 778, y: 431, color: C.rate, text: "Inj.Rate", tx: 873, anchor: "end" }] },
    { box: [724, 474, 880, 537], items: [{ dot: 732, y: 487, color: "#000", text: "Inj.Eff(BCM1)", tx: 758 }, { dot: 732, y: 505, color: "#888", text: "Inj.Eff(BCM2)", tx: 758 }, { y: 522, text: "Inj.Eff", tx: 758 }] },
    { box: [768, 533, 880, 561], items: [{ line: [775, 815], y: 547, color: C.ecl, text: "ECL_BW", tx: 820 }] },
    { box: [750, 604, 880, 651], items: [{ line: [757, 797], y: 627, color: C.dur }, { y: 618, text: "ECL BG", tx: 802 }, { y: 636, text: "Duration", tx: 802 }] },
    { box: [750, 693, 880, 721], items: [{ line: [757, 797], y: 707, color: C.top, text: "TOP [Hz]", tx: 802 }] },
    { box: [768, 775, 880, 821], items: [{ line: [775, 815], y: 788, color: C.cdc, text: "CDC", tx: 820 }, { line: [775, 815], y: 806, color: C.cdcAv, text: "CDC_av", tx: 820 }] },
    { box: [759, 854, 880, 882], items: [{ line: [766, 806], y: 868, color: C.dia, text: "Diamond", tx: 811 }] },
    { box: [741, 934, 880, 980], items: [{ line: [748, 788], y: 948, color: C.her, text: "VXD_FW225", tx: 793 }, { line: [748, 788], y: 965, color: C.ler, text: "VXD_FW135", tx: 793 }] }
  ]
};

var rightSide = {
  name: "R", x0: 1003, x1: 1636, x: d3.scaleLinear().domain([7.925, 16.935]).range([1003, 1636]),
  firstX: 989, labelY: 1037, dateX: 955, dateY: 1057,
  panels: [
    { key: "lum", y0: 53, y1: 112, domain: [0, 50200], ticks: [0, 10000, 20000, 30000, 40000], minor: 2000, label: ["Luminosity"], lx: [957], dash: true,
      series: [{ type: "line", data: lumData, color: C.lum, w: 1.5 }] },
    { key: "cur", y0: 112, y1: 172, domain: [0, 1765], ticks: [0, 500, 1000, 1500], minor: 100, label: ["I[mA]"], lx: [965], dash: true,
      series: [{ type: "line", data: herCurrent, color: C.her, w: 1.5 }, { type: "line", data: lerCurrent, color: C.ler, w: 1.5 }] },
    { key: "rep", y0: 172, y1: 231, domain: [0, 13.4], ticks: [0, 5, 10], minor: 0.5, label: ["Rep.", "Rate[Hz]"], lx: [966, 981],
      series: [{ type: "step", data: herRepRate, color: C.repH, w: 1.4 }] },
    { key: "q", y0: 231, y1: 291, domain: [-0.13, 2.37], ticks: [0, 0.5, 1, 1.5, 2], minor: 0.1, label: ["Q[nC]"], lx: [974],
      series: [{ type: "band", data: qmd8eZero, color: C.q2 }, { type: "band", data: qmd8e1, color: C.q1 }, { type: "band", data: qmd8e2, color: C.q2, w: 0.5 }] },
    { key: "rate", y0: 291, y1: 350, domain: [-0.05, 3.4], ticks: [0, 1, 2, 3], minor: 0.1, label: ["[mA/s]"], lx: [989],
      series: [{ type: "line", data: [[7.925, 0.02], [16.82, 0.02]], color: C.rate, w: 2.5 }, { type: "band", data: herInjRate, color: C.rate, w: 2 }] },
    { key: "eff", y0: 350, y1: 414, domain: [-7, 111], ticks: [0, 20, 40, 60, 80, 100], minor: 4, label: ["[%]"], lx: [972],
      series: [{ type: "line", data: [[7.925, 0], [16.82, 0]], color: C.eff, w: 2.5 }, { type: "band", data: herInjEff, color: C.eff, w: 2 }, { type: "dots", data: herEffPoints, color: C.eff }] },
    { key: "ecl", y0: 414, y1: 499, domain: [0, 26900], ticks: [0, 5000, 10000, 15000, 20000, 25000], minor: 1000, label: ["ECL_FW"], lx: [951], bold: true,
      series: [{ type: "line", data: [[7.925, 0], [16.8, 0]], color: C.ecl, w: 1.2 }, { type: "band", data: eclFw, color: C.ecl, w: 1 }, { type: "spikes", data: eclFwSpikes, color: C.ecl }, { type: "spikes", data: eclFwGaps, color: "#fff", w: 1.3 }] },
    { key: "dur", y0: 499, y1: 584, domain: [0, 39.8], ticks: [0, 10, 20, 30], minor: 1, label: ["[ms]"], lx: [979],
      series: [{ type: "band", data: herDuration, color: C.dur, w: 1 }, { type: "spikes", data: herDurGaps, color: "#fff", w: 1.2 }, { type: "spikes", data: herDurSpikes, color: C.dur }] },
    { key: "sr", y0: 584, y1: 669, domain: [0, 5.06], ticks: [0, 1, 2, 3, 4, 5], minor: 0.1, label: ["Photon", "Rate"], lx: [976, 991], exp: [939, 603, "5"],
      series: [{ type: "line", data: srBw, color: C.ler, w: 1.2 }, { type: "line", data: srFw, color: C.lum, w: 1.5 }] },
    { key: "top", y0: 669, y1: 754, domain: [0, 2.16], ticks: [0, 0.5, 1, 1.5, 2], minor: 0.05, label: ["[Hz]"], lx: [970], exp: [922, 688, "7"],
      series: [{ type: "band", data: topRate, color: C.top, w: 1.2 }, { type: "spikes", data: topSpikes, color: C.top }] },
    { key: "cdc", y0: 754, y1: 840, domain: [0, 551], ticks: [0, 100, 200, 300, 400, 500], minor: 20, label: ["[uA]"], lx: [970], bold: true,
      series: [{ type: "band", data: cdcCurrent, color: C.cdc, w: 1 }, { type: "spikes", data: cdcGaps, color: "#fff", w: 1.2 }, { type: "band", data: cdcAverage, color: C.cdcAv, w: 1 }, { type: "spikes", data: cdcSpikes, color: C.cdcAv, w: 1.5 }] },
    { key: "dia", y0: 840, y1: 925, domain: [0, 958], ticks: [0, 200, 400, 600, 800], minor: 40, label: ["[mRad/s]"], lx: [970],
      series: [{ type: "band", data: diamondDose, color: C.dia, w: 1.2 }, { type: "spikes", data: diamondSpikes, color: C.dia }] },
    { key: "vxd", y0: 925, y1: 1010, domain: [0, 1380], ticks: [0, 200, 400, 600, 800, 1000, 1200], minor: 40, label: ["VXD"], lx: [963], bold: true,
      series: [{ type: "band", data: vxdBw270, color: C.her, w: 1 }, { type: "spikes", data: vxdBwSpikes270, color: C.her, w: 1.5 }, { type: "band", data: vxdBw180, color: C.ler, w: 1 }, { type: "spikes", data: vxdBwSpikes180, color: C.ler }] }
  ],
  legends: [
    { box: [1697, 129, 1783, 175], items: [{ line: [1704, 1743], y: 141, color: C.ler, text: "LER", tx: 1749 }, { line: [1704, 1743], y: 160, color: C.her, text: "HER", tx: 1749 }] },
    { box: [1682, 184, 1783, 222], items: [{ line: [1689, 1729], y: 203, color: C.repH, text: "HER", tx: 1734, big: true }] },
    { box: [1644, 248, 1783, 294], items: [{ dot: 1652, y: 261, color: C.q1, text: "QMD8E_1(nC)", tx: 1775, anchor: "end" }, { dot: 1652, y: 278.5, color: C.q2, text: "QMD8E_2(nC)", tx: 1775, anchor: "end" }] },
    { box: [1671, 308, 1783, 335], items: [{ dot: 1679, y: 321, color: C.rate, text: "Inj.Rate", tx: 1775, anchor: "end" }] },
    { box: [1626, 366, 1783, 431], items: [{ dot: 1634, y: 380, color: "#000", text: "Inj.Eff(BCM1)", tx: 1660 }, { dot: 1634, y: 398, color: "#888", text: "Inj.Eff(BCM2)", tx: 1660 }, { y: 415.7, text: "Inj.Eff", tx: 1660 }] },
    { box: [1671, 428, 1783, 458], items: [{ line: [1677, 1717], y: 444, color: C.ecl, text: "ECL_FW", tx: 1722 }] },
    { box: [1652, 506, 1783, 552], items: [{ line: [1659, 1699], y: 529, color: C.dur }, { y: 520, text: "ECL BG", tx: 1704 }, { y: 538, text: "Duration", tx: 1704 }] },
    { box: [1679, 601, 1783, 647], items: [{ line: [1686, 1726], y: 614, color: C.lum, text: "SR_FW", tx: 1732 }, { line: [1686, 1726], y: 631.6, color: C.ler, text: "SR_BW", tx: 1732 }] },
    { box: [1652, 686, 1783, 713], items: [{ line: [1659, 1699], y: 699, color: C.top, text: "TOP [Hz]", tx: 1704 }] },
    { box: [1671, 771, 1783, 816], items: [{ line: [1677, 1717], y: 784, color: C.cdc, text: "CDC", tx: 1722 }, { line: [1677, 1717], y: 801.5, color: C.cdcAv, text: "CDC_av", tx: 1722 }] },
    { box: [1661, 857, 1783, 884], items: [{ line: [1668, 1708], y: 870, color: C.dia, text: "Diamond", tx: 1713 }] },
    { box: [1643, 942, 1783, 988], items: [{ line: [1650, 1690], y: 955, color: C.ler, text: "VXD_BW180", tx: 1695 }, { line: [1650, 1690], y: 972, color: C.her, text: "VXD_BW270", tx: 1695 }] }
  ]
};

drawSide(leftSide);
drawSide(rightSide);
</script>
</body>
</html>
